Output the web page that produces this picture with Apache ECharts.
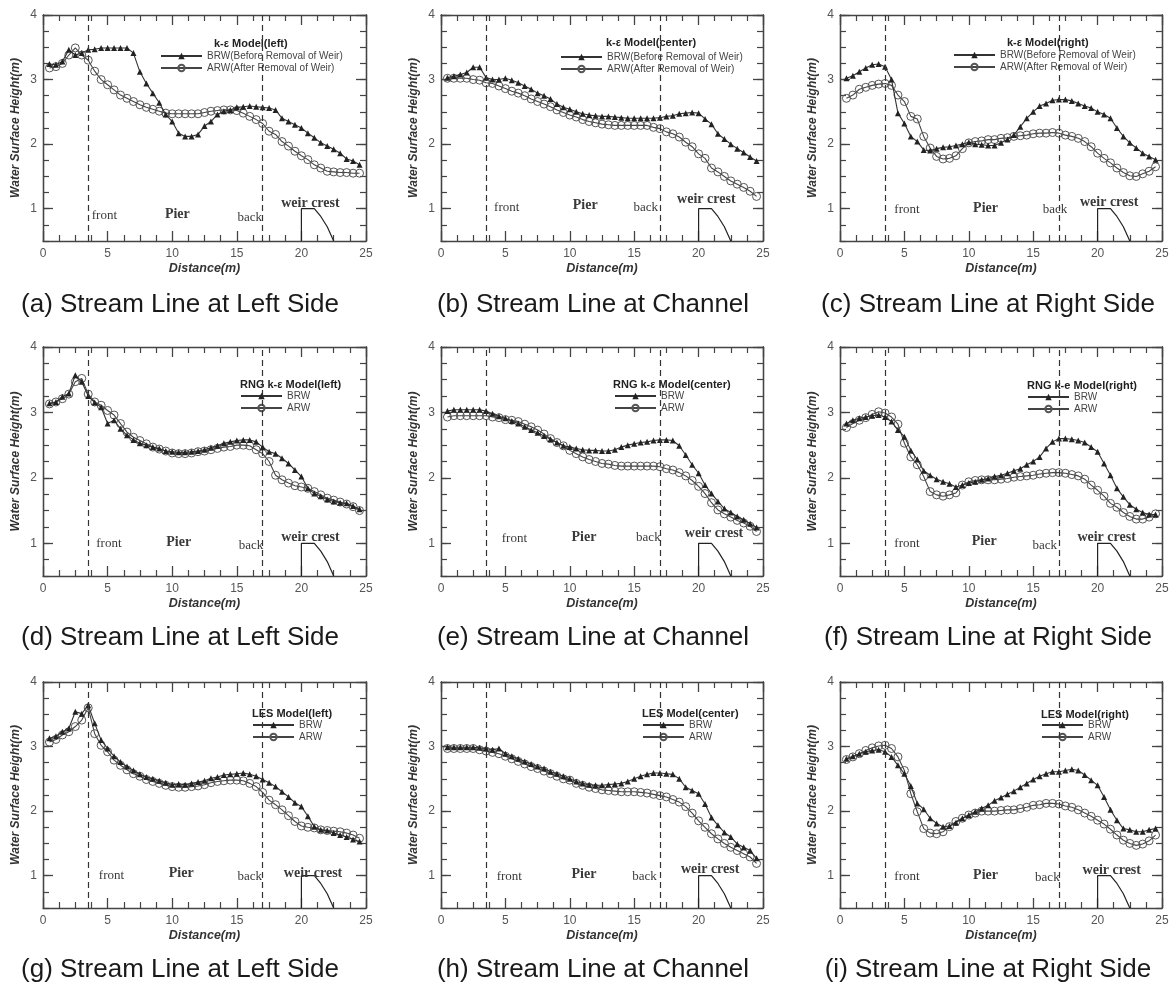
<!DOCTYPE html>
<html><head><meta charset="utf-8">
<script src="https://cdn.jsdelivr.net/npm/echarts@6/dist/echarts.min.js"></script>
<style>html,body{margin:0;padding:0;background:#fff}#c{width:1175px;height:985px}</style>
</head><body><div id="c"></div>
<script>
// ---------------- data ----------------
const distance = [0.5,1,1.5,2,2.5,3,3.5,4,4.5,5,5.5,6,6.5,7,7.5,8,8.5,9,9.5,10,10.5,11,11.5,12,12.5,13,13.5,14,14.5,15,15.5,16,16.5,17,17.5,18,18.5,19,19.5,20,20.5,21,21.5,22,22.5,23,23.5,24,24.5];

const brwA = [3.24,3.23,3.28,3.46,3.38,3.41,3.46,3.47,3.49,3.49, 3.49,3.49,3.49,3.41,3.12,2.94,2.79,2.64,2.46,2.35, 2.17,2.12,2.12,2.15,2.28,2.35,2.46,2.51,2.53,2.57, 2.58,2.59,2.58,2.57,2.56,2.53,2.40,2.35,2.30,2.25, 2.17,2.10,2.02,1.97,1.92,1.86,1.77,1.74,1.68];
const arwA = [3.18,3.20,3.25,3.38,3.49,3.38,3.30,3.13,3.00,2.92, 2.84,2.76,2.71,2.66,2.61,2.57,2.54,2.51,2.48,2.47, 2.47,2.47,2.47,2.47,2.49,2.51,2.52,2.53,2.53,2.52, 2.48,2.43,2.38,2.32,2.20,2.15,2.04,1.97,1.89,1.82, 1.76,1.68,1.63,1.58,1.57,1.56,1.56,1.55,1.55];

const brwB = [3.03,3.05,3.08,3.11,3.19,3.19,3.03,3.00,3.00,3.02, 2.99,2.95,2.90,2.85,2.79,2.75,2.70,2.62,2.57,2.54, 2.50,2.47,2.45,2.44,2.43,2.43,2.42,2.41,2.40,2.40, 2.40,2.40,2.40,2.41,2.43,2.44,2.47,2.48,2.49,2.48, 2.39,2.31,2.16,2.08,2.00,1.93,1.87,1.80,1.74];
const arwB = [3.02,3.02,3.02,3.02,3.00,2.99,2.95,2.94,2.90,2.86, 2.82,2.79,2.75,2.70,2.66,2.62,2.58,2.53,2.49,2.45, 2.42,2.38,2.35,2.33,2.31,2.30,2.29,2.29,2.29,2.29, 2.29,2.29,2.26,2.24,2.19,2.16,2.11,2.03,1.96,1.85, 1.78,1.63,1.57,1.50,1.43,1.38,1.33,1.27,1.19];

const brwC = [3.02,3.06,3.12,3.18,3.23,3.24,3.20,3.00,2.48,2.32, 2.12,2.04,1.91,1.90,1.93,1.95,1.96,1.98,2.00,2.03, 2.00,1.99,1.98,1.98,2.02,2.07,2.14,2.27,2.40,2.50, 2.59,2.63,2.68,2.69,2.69,2.67,2.63,2.59,2.56,2.50, 2.46,2.40,2.25,2.12,2.02,1.94,1.86,1.81,1.76];
const arwC = [2.71,2.76,2.85,2.88,2.91,2.93,2.94,2.91,2.76,2.66, 2.43,2.39,2.12,1.94,1.81,1.77,1.78,1.82,1.93,2.02, 2.04,2.05,2.07,2.07,2.09,2.10,2.12,2.13,2.14,2.16, 2.17,2.17,2.18,2.17,2.14,2.12,2.09,2.04,1.96,1.86, 1.78,1.71,1.63,1.56,1.51,1.50,1.54,1.58,1.65];

const brwD = [3.14,3.16,3.24,3.29,3.57,3.47,3.25,3.15,3.08,2.83, 2.88,2.75,2.65,2.58,2.53,2.50,2.47,2.45,2.41,2.40, 2.39,2.39,2.40,2.41,2.43,2.46,2.49,2.53,2.55,2.57, 2.58,2.58,2.55,2.47,2.40,2.37,2.30,2.22,2.12,2.02, 1.84,1.76,1.72,1.67,1.64,1.62,1.61,1.57,1.52];
const arwD = [3.13,3.16,3.21,3.28,3.47,3.52,3.28,3.16,3.11,3.03, 2.96,2.83,2.70,2.62,2.57,2.52,2.47,2.44,2.41,2.38, 2.37,2.37,2.38,2.40,2.41,2.43,2.45,2.47,2.48,2.50, 2.50,2.49,2.43,2.37,2.25,2.04,1.97,1.92,1.88,1.86, 1.84,1.79,1.74,1.69,1.66,1.63,1.60,1.56,1.50];

const brwE = [3.02,3.04,3.04,3.04,3.04,3.04,3.02,2.98,2.94,2.91, 2.87,2.83,2.78,2.73,2.69,2.64,2.59,2.54,2.49,2.47, 2.45,2.43,2.42,2.42,2.41,2.41,2.43,2.47,2.50,2.52, 2.54,2.55,2.57,2.58,2.58,2.57,2.49,2.35,2.20,2.07, 1.89,1.76,1.64,1.53,1.47,1.41,1.36,1.30,1.24];
const arwE = [2.93,2.95,2.95,2.95,2.95,2.95,2.95,2.93,2.92,2.89, 2.88,2.86,2.82,2.78,2.73,2.67,2.60,2.54,2.49,2.42, 2.37,2.32,2.28,2.25,2.22,2.21,2.19,2.18,2.18,2.18, 2.18,2.18,2.18,2.17,2.14,2.12,2.08,2.03,1.96,1.87, 1.76,1.62,1.51,1.45,1.40,1.35,1.31,1.26,1.18];

const brwF = [2.83,2.88,2.91,2.93,2.95,2.96,2.93,2.86,2.73,2.63, 2.42,2.28,2.11,2.04,1.98,1.94,1.91,1.86,1.89,1.92, 1.94,1.97,1.99,2.02,2.04,2.07,2.11,2.14,2.20,2.25, 2.32,2.45,2.55,2.60,2.60,2.59,2.57,2.54,2.47,2.40, 2.22,2.04,1.84,1.71,1.59,1.52,1.47,1.44,1.44];
const arwF = [2.77,2.83,2.88,2.92,2.97,3.01,2.99,2.93,2.82,2.53, 2.32,2.20,2.02,1.79,1.74,1.72,1.74,1.77,1.89,1.94, 1.96,1.97,1.97,1.97,1.98,1.99,2.01,2.02,2.03,2.04, 2.06,2.07,2.08,2.08,2.07,2.05,2.03,1.98,1.89,1.81, 1.72,1.61,1.55,1.47,1.41,1.37,1.37,1.40,1.45];

const brwG = [3.13,3.16,3.23,3.28,3.54,3.51,3.64,3.36,3.10,2.97, 2.85,2.76,2.69,2.63,2.57,2.53,2.50,2.47,2.44,2.41, 2.42,2.41,2.43,2.45,2.47,2.51,2.53,2.56,2.57,2.58, 2.59,2.57,2.54,2.49,2.44,2.38,2.30,2.22,2.13,2.07, 1.92,1.76,1.71,1.70,1.66,1.63,1.60,1.56,1.53];
const arwG = [3.07,3.11,3.18,3.23,3.31,3.41,3.60,3.20,3.02,2.92, 2.79,2.71,2.64,2.58,2.54,2.49,2.46,2.43,2.40,2.38, 2.37,2.37,2.38,2.39,2.41,2.44,2.46,2.47,2.48,2.48, 2.47,2.43,2.38,2.29,2.17,2.10,2.02,1.93,1.84,1.77, 1.75,1.74,1.71,1.70,1.69,1.68,1.66,1.63,1.58];

const brwH = [2.99,2.99,2.99,2.99,2.99,2.98,2.97,2.95,2.97,2.89, 2.85,2.81,2.77,2.73,2.69,2.66,2.61,2.58,2.54,2.50, 2.46,2.43,2.41,2.40,2.40,2.41,2.42,2.43,2.46,2.50, 2.54,2.57,2.59,2.59,2.58,2.57,2.50,2.37,2.32,2.27, 2.11,1.90,1.78,1.67,1.60,1.49,1.44,1.39,1.27];
const arwH = [2.97,2.97,2.97,2.97,2.97,2.95,2.93,2.91,2.89,2.85, 2.81,2.77,2.73,2.69,2.66,2.62,2.58,2.54,2.50,2.48, 2.43,2.40,2.37,2.35,2.33,2.32,2.31,2.30,2.30,2.30, 2.29,2.28,2.26,2.24,2.22,2.18,2.14,2.07,1.97,1.85, 1.75,1.65,1.57,1.50,1.44,1.39,1.34,1.29,1.19];

const brwI = [2.81,2.85,2.89,2.92,2.94,2.95,2.92,2.84,2.71,2.58, 2.39,2.12,2.03,1.89,1.81,1.76,1.77,1.82,1.89,1.94, 1.99,2.04,2.09,2.16,2.21,2.26,2.31,2.37,2.43,2.49, 2.54,2.58,2.61,2.61,2.63,2.65,2.63,2.56,2.48,2.40, 2.22,2.02,1.86,1.73,1.71,1.68,1.68,1.71,1.73];
const arwI = [2.80,2.84,2.89,2.94,2.98,3.01,3.02,2.97,2.84,2.63, 2.27,1.99,1.73,1.66,1.65,1.68,1.76,1.84,1.89,1.94, 1.97,2.00,2.00,2.00,2.01,2.02,2.02,2.04,2.06,2.09, 2.10,2.12,2.12,2.11,2.08,2.06,2.02,1.97,1.92,1.86, 1.80,1.72,1.63,1.55,1.50,1.47,1.49,1.54,1.63];

const weirProfile = [[20,0.5],[20,1.0],[21,1.0],[21.5,0.88],[22,0.72],[22.5,0.5]];
const pierLines = [3.5, 17];
const xTickStep = 5, yLabelValues = [1,2,3,4];
const longNames = ['BRW(Before Removal of Weir)', 'ARW(After Removal of Weir)'];
const shortNames = ['BRW', 'ARW'];
const modelTitles = ['k-\u03b5 Model(left)','k-\u03b5 Model(center)','k-\u03b5 Model(right)',
  'RNG k-\u03b5 Model(left)','RNG k-\u03b5 Model(center)','RNG k-e Model(right)',
  'LES Model(left)','LES Model(center)','LES Model(right)'];
const captions = ['(a) Stream Line at Left Side','(b) Stream Line at Channel','(c) Stream Line at Right Side',
  '(d) Stream Line at Left Side','(e) Stream Line at Channel','(f) Stream Line at Right Side',
  '(g) Stream Line at Left Side','(h) Stream Line at Channel','(i) Stream Line at Right Side'];
const annotationText = ['front','Pier','back','weir crest'];

// ---------------- layout ----------------
const colLeft = [43, 441, 840], colWidth = [323, 322, 322];
const rowTop = [15, 347, 682], rowHeight = [226, 229, 226];
const captionX = [180, 593, 988], captionY = [305, 638, 970];
const panels = [
  {brw:brwA, arw:arwA, names:longNames, title:[214,44], legend:[160,51], ann:[[4.75,0.90],[10.4,0.91],[16.0,0.87],[20.7,1.08]]},
  {brw:brwB, arw:arwB, names:longNames, title:[606,43], legend:[560,52], ann:[[5.1,1.01],[11.2,1.05],[15.9,1.02],[20.6,1.14]]},
  {brw:brwC, arw:arwC, names:longNames, title:[1007,43], legend:[953,50], ann:[[5.2,0.98],[11.3,1.01],[16.7,0.98],[20.9,1.10]]},
  {brw:brwD, arw:arwD, names:shortNames, title:[240,385], legend:[240,391], ann:[[5.1,1.0],[10.5,1.02],[16.1,0.96],[20.7,1.09]]},
  {brw:brwE, arw:arwE, names:shortNames, title:[613,385], legend:[614,391], ann:[[5.7,1.07],[11.1,1.09],[16.1,1.08],[21.2,1.15]]},
  {brw:brwF, arw:arwF, names:shortNames, title:[1027,386], legend:[1027,392], ann:[[5.2,0.99],[11.2,1.03],[15.9,0.96],[20.7,1.09]]},
  {brw:brwG, arw:arwG, names:shortNames, title:[252,714], legend:[252,720], ann:[[5.3,1.0],[10.7,1.03],[16.0,0.99],[20.9,1.04]]},
  {brw:brwH, arw:arwH, names:shortNames, title:[642,714], legend:[642,720], ann:[[5.3,0.99],[11.1,1.02],[15.8,0.98],[20.9,1.10]]},
  {brw:brwI, arw:arwI, names:shortNames, title:[1041,715], legend:[1041,720], ann:[[5.2,0.98],[11.3,1.01],[16.1,0.97],[21.1,1.08]]}
];

const AX = '#444';
const grids = [], xAxes = [], yAxes = [], series = [], legends = [], graphics = [];
panels.forEach((p, i) => {
  const r = Math.floor(i / 3), c = i % 3;
  grids.push({left: colLeft[c], top: rowTop[r], width: colWidth[c], height: rowHeight[r], show: false});
  const lineSt = {color: AX, width: 1.3};
  const xBase = {gridIndex: i, type: 'value', min: 0, max: 25, interval: xTickStep,
    axisLine: {show: true, onZero: false, lineStyle: lineSt},
    axisTick: {show: true, inside: true, length: 10, lineStyle: lineSt},
    minorTick: {show: true, splitNumber: 4, length: 6, lineStyle: {color: AX, width: 1.2}},
    splitLine: {show: false}, minorSplitLine: {show: false}};
  xAxes.push(Object.assign({}, xBase, {position: 'bottom',
    axisLabel: {color: '#555', fontSize: 12, margin: 7, fontFamily: 'Liberation Sans, Arial'},
    name: 'Distance(m)', nameLocation: 'middle', nameGap: 21,
    nameTextStyle: {fontWeight: 'bold', fontStyle: 'italic', fontSize: 12.5, color: '#333', fontFamily: 'Liberation Sans, Arial'}}));
  xAxes.push(Object.assign({}, xBase, {position: 'top', axisLabel: {show: false}}));
  const yBase = {gridIndex: i, type: 'value', min: 0.5, max: 4,
    axisLine: {show: true, onZero: false, lineStyle: lineSt}, splitLine: {show: false}};
  yAxes.push(Object.assign({}, yBase, {position: 'left', interval: 0.5,
    axisTick: {show: true, inside: true, length: 10, customValues: yLabelValues, lineStyle: lineSt},
    axisLabel: {color: '#555', fontSize: 12, margin: 6, fontFamily: 'Liberation Sans, Arial',
      formatter: v => (Math.abs(v - Math.round(v)) < 1e-6 ? String(Math.round(v)) : '')},
    name: 'Water Surface Height(m)', nameLocation: 'middle', nameGap: 21,
    nameTextStyle: {fontWeight: 'bold', fontStyle: 'italic', fontSize: 12, color: '#333', fontFamily: 'Liberation Sans, Arial'}}));
  yAxes.push(Object.assign({}, yBase, {position: 'left', interval: 0.25,
    axisTick: {show: true, inside: true, length: 6, lineStyle: {color: AX, width: 1.2}}, axisLabel: {show: false}}));
  yAxes.push(Object.assign({}, yBase, {position: 'right', interval: 0.5,
    axisTick: {show: true, inside: true, length: 10, customValues: yLabelValues, lineStyle: lineSt}, axisLabel: {show: false}}));
  yAxes.push(Object.assign({}, yBase, {position: 'right', interval: 0.25,
    axisTick: {show: true, inside: true, length: 6, lineStyle: {color: AX, width: 1.2}}, axisLabel: {show: false}}));

  const xi = 2 * i, yi = 4 * i;
  series.push({type: 'line', name: p.names[1], xAxisIndex: xi, yAxisIndex: yi,
    data: distance.map((d, k) => [d, p.arw[k]]),
    symbol: 'circle', symbolSize: 8, showSymbol: true,
    itemStyle: {color: 'rgba(255,255,255,0)', borderColor: '#555', borderWidth: 1},
    lineStyle: {color: '#444', width: 1.1}, silent: true, z: 3});
  series.push({type: 'line', name: p.names[0], xAxisIndex: xi, yAxisIndex: yi,
    data: distance.map((d, k) => [d, p.brw[k]]),
    symbol: 'triangle', symbolSize: 6, showSymbol: true,
    itemStyle: {color: '#222'}, lineStyle: {color: '#333', width: 1.1}, silent: true, z: 4});
  series.push({type: 'line', name: 'weir', xAxisIndex: xi, yAxisIndex: yi,
    data: weirProfile, symbol: 'none', lineStyle: {color: '#222', width: 1.2}, silent: true,
    markLine: {symbol: 'none', silent: true, label: {show: false},
      lineStyle: {type: [6, 4], color: '#333', width: 1.2},
      data: pierLines.map(v => ({xAxis: v}))},
    markPoint: {symbol: 'rect', symbolSize: 1, itemStyle: {color: 'rgba(0,0,0,0)'}, silent: true,
      label: {show: true, position: 'inside', formatter: q => q.name, color: '#3a3a3a', fontFamily: 'Liberation Serif, Times New Roman, serif'},
      data: annotationText.map((t, k) => ({name: t, coord: p.ann[k],
        label: {fontSize: (k === 1 || k === 3) ? 14 : 13, fontWeight: (k === 1 || k === 3) ? 'bold' : 'normal'}}))}});

  legends.push({left: p.legend[0], top: p.legend[1], orient: 'vertical', itemWidth: 41, itemHeight: 8, itemGap: 2,
    selectedMode: false, data: p.names, padding: 0,
    textStyle: {fontSize: 10, color: '#444', fontFamily: 'Liberation Sans, Arial', lineHeight: 10}});

  graphics.push({type: 'text', x: p.title[0], y: p.title[1], silent: true,
    style: {text: modelTitles[i], fontSize: 11, fontWeight: 'bold', fontFamily: 'Liberation Sans, Arial', fill: '#222', align: 'left', verticalAlign: 'middle'}});
  graphics.push({type: 'text', x: captionX[c], y: captionY[r], silent: true,
    style: {text: captions[i], fontSize: 26, fontFamily: 'Liberation Sans, Arial', fill: '#1a1a1a', align: 'center', verticalAlign: 'middle'}});
});

const chart = echarts.init(document.getElementById('c'), null, {renderer: 'canvas'});
chart.setOption({
  animation: false, backgroundColor: '#fff',
  grid: grids, xAxis: xAxes, yAxis: yAxes, legend: legends, series: series, graphic: graphics
});
</script></body></html>
